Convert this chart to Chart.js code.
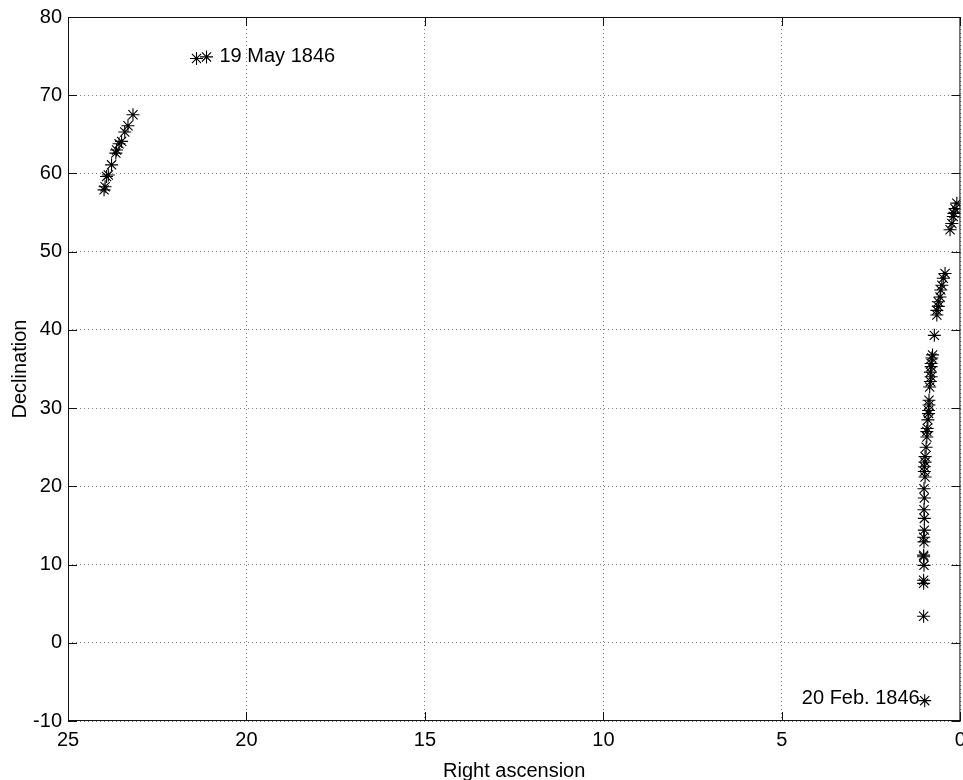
<!DOCTYPE html>
<html>
<head>
<meta charset="utf-8">
<script src="https://cdn.jsdelivr.net/npm/chart.js@4.4.1/dist/chart.umd.min.js"></script>
<style>
  html, body { margin: 0; padding: 0; background: #fff; overflow: hidden; }
  /* a little wider than the window so the "0" tick gets cut at the edge, as in the original */
  #wrap { width: 968px; height: 780px; }
</style>
</head>
<body>
<div id="wrap"><canvas id="orbitChart"></canvas></div>
<script>
// Observations in time order, 20 Feb 1846 -> 19 May 1846
const rightAscension = [
  1.00, 1.03, 1.03, 1.03, 1.02, 1.03, 1.03, 1.02, 1.03, 1.01,
  1.01, 1.02, 1.01, 1.02, 0.99, 1.01, 1.01, 0.99, 0.99, 0.96,
  0.94, 0.94, 0.93, 0.91, 0.89, 0.89, 0.88, 0.88, 0.86, 0.84,
  0.82, 0.84, 0.82, 0.82, 0.80, 0.78, 0.73, 0.66, 0.66, 0.62,
  0.62, 0.57, 0.55, 0.52, 0.48, 0.43, 0.29, 0.24, 0.20, 0.18,
  0.15, 0.10, 23.99, 23.96, 23.92, 23.87, 23.78, 23.66, 23.64, 23.57,
  23.50, 23.41, 23.32, 23.18, 21.40, 21.12
];
const declination = [
  -7.4, 3.4, 7.6, 8.0, 9.9, 11.0, 11.2, 12.9, 13.5, 14.4,
  15.9, 17.0, 18.5, 19.7, 21.2, 21.9, 22.5, 23.1, 23.8, 25.0,
  26.3, 27.0, 27.4, 28.5, 29.3, 29.7, 30.4, 31.0, 32.7, 33.4,
  34.0, 34.6, 35.3, 35.7, 36.4, 36.8, 39.3, 41.9, 42.5, 43.0,
  43.6, 44.2, 45.1, 45.7, 46.6, 47.2, 52.8, 53.6, 54.5, 54.9,
  55.5, 56.2, 57.9, 58.3, 59.6, 59.8, 61.1, 62.6, 63.0, 63.8,
  64.1, 65.3, 66.1, 67.5, 74.7, 74.9
];
const xTicks = [25, 20, 15, 10, 5, 0];
const yTicks = [-10, 0, 10, 20, 30, 40, 50, 60, 70, 80];
const dateLabels = ['20 Feb. 1846', '19 May 1846'];

const FONT = '"Liberation Sans", Arial, Helvetica, sans-serif';

// MATLAB-style box with inward ticks, plus the two date notes
const axesBox = {
  id: 'axesBox',
  afterDatasetsDraw(chart) {
    const { ctx, chartArea: a, scales: { x, y } } = chart;
    ctx.save();
    ctx.strokeStyle = '#111';
    ctx.lineWidth = 1;
    ctx.strokeRect(a.left + 0.5, a.top + 0.5, a.right - a.left - 1, a.bottom - a.top - 1);
    ctx.beginPath();
    xTicks.forEach(v => {
      const px = Math.round(x.getPixelForValue(v)) + 0.5;
      ctx.moveTo(px, a.bottom); ctx.lineTo(px, a.bottom - 9);
      ctx.moveTo(px, a.top); ctx.lineTo(px, a.top + 9);
    });
    yTicks.forEach(v => {
      const py = Math.round(y.getPixelForValue(v)) + 0.5;
      ctx.moveTo(a.left, py); ctx.lineTo(a.left + 9, py);
      ctx.moveTo(a.right, py); ctx.lineTo(a.right - 9, py);
    });
    ctx.stroke();

    ctx.fillStyle = '#000';
    ctx.font = '20px ' + FONT;
    ctx.textBaseline = 'middle';
    const last = rightAscension.length - 1;
    ctx.textAlign = 'right';
    ctx.fillText(dateLabels[0], x.getPixelForValue(rightAscension[0]) - 5, y.getPixelForValue(declination[0]) - 2);
    ctx.textAlign = 'left';
    ctx.fillText(dateLabels[1], x.getPixelForValue(rightAscension[last]) + 13, y.getPixelForValue(declination[last]));
    ctx.restore();
  }
};

new Chart(document.getElementById('orbitChart'), {
  type: 'scatter',
  data: {
    datasets: [{
      data: rightAscension.map((ra, i) => ({ x: ra, y: declination[i] })),
      pointStyle: 'star',
      pointRadius: 6.5,
      pointBorderWidth: 1.1,
      borderColor: '#000',
      backgroundColor: '#000',
      showLine: false
    }]
  },
  options: {
    responsive: true,
    maintainAspectRatio: false,
    animation: false,
    layout: { padding: { top: 17, right: 1, bottom: 0, left: 0 } },
    plugins: { legend: { display: false }, tooltip: { enabled: false } },
    scales: {
      x: {
        type: 'linear',
        reverse: true,
        min: 0, max: 25,
        afterBuildTicks: s => { s.ticks = xTicks.map(v => ({ value: v })); },
        afterFit: s => { s.height = 59; s.paddingLeft = 0; s.paddingRight = 0; },
        grid: { color: '#808080', lineWidth: 1, drawTicks: false },
        border: { display: false, dash: [1, 3] },
        ticks: { color: '#000', padding: 7, maxRotation: 0, font: { size: 20, family: FONT } },
        title: { display: true, text: 'Right ascension', color: '#000', padding: { top: 0, bottom: -3 }, font: { size: 20, family: FONT } }
      },
      y: {
        type: 'linear',
        min: -10, max: 80,
        afterBuildTicks: s => { s.ticks = yTicks.map(v => ({ value: v })); },
        afterFit: s => { s.width = 68; s.paddingTop = 0; s.paddingBottom = 0; },
        grid: { color: '#808080', lineWidth: 1, drawTicks: false },
        border: { display: false, dash: [1, 3] },
        ticks: { color: '#000', padding: 6, font: { size: 20, family: FONT } },
        title: { display: true, text: 'Declination', color: '#000', padding: { top: 8, bottom: 0 }, font: { size: 20, family: FONT } }
      }
    }
  },
  plugins: [axesBox]
});
</script>
</body>
</html>
